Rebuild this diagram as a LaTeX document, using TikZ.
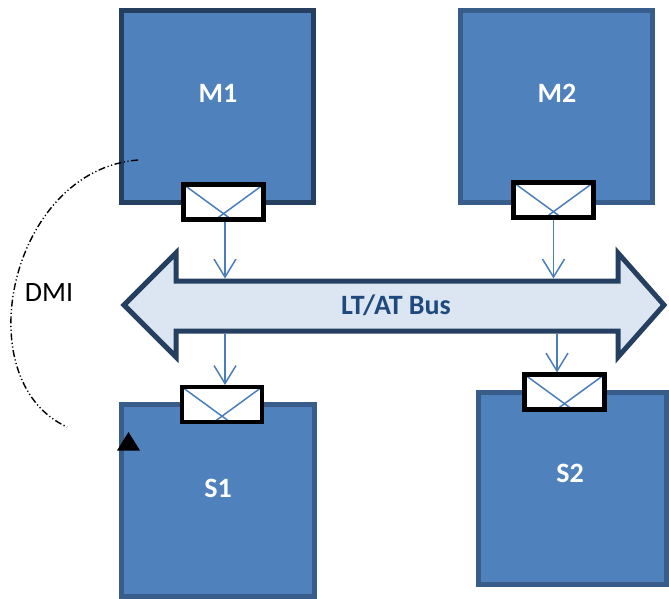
\documentclass[tikz,border=0pt]{standalone}
\usepackage{fontspec}
\setmainfont{Carlito}
\usetikzlibrary{arrows.meta,calc}
\definecolor{boxfill}{HTML}{4F81BD}
\definecolor{boxline}{HTML}{385D8A}
\definecolor{boxlinedark}{HTML}{243F60}
\definecolor{busfill}{HTML}{DCE6F2}
\definecolor{buslabel}{HTML}{1F497D}
\definecolor{linkblue}{HTML}{4A7EBB}

\begin{document}
\begin{tikzpicture}[x=1pt,y=-1pt,
  unit/.style={draw=boxline, fill=boxfill, line width=5pt, inner sep=0pt, outer sep=0pt},
  unitlabel/.style={text=white, font=\bfseries\fontsize{28}{32}\selectfont},
  port/.style={fill=white, minimum width=80pt, minimum height=35pt, inner sep=0pt, outer sep=0pt},
  portframe/.style={draw=black, line width=4.5pt},
  xline/.style={draw=linkblue, line width=1.5pt},
  buslink/.style={draw=linkblue, line width=1.5pt, -{Straight Barb[length=18pt,width=22pt,line width=1.5pt]}},
  dmi/.style={line width=1.4pt, dash pattern=on 7pt off 2.5pt on 1.2pt off 2.5pt on 1.2pt off 2.5pt}]

\useasboundingbox (0,0) rectangle (669,598);

% masters and slaves
\node[unit, draw=boxlinedark, minimum width=192pt, minimum height=192pt] (m1) at (217.5,106.5) {};
\node[unit, minimum width=192pt, minimum height=192pt] (m2) at (556.5,106.5) {};
\node[unit, minimum width=193pt, minimum height=192pt] (s1) at (218,500.5) {};
\node[unit, minimum width=188pt, minimum height=192pt] (s2) at (572.5,488.5) {};

\node[unitlabel] (m1t) at (218,93) {M1};
\node[unitlabel] (m2t) at (557,93) {M2};
\node[unitlabel] (s1t) at (218,488) {S1};
\node[unitlabel] (s2t) at (570,473) {S2};

% LT/AT bus as a double-headed arrow
\draw[boxlinedark, fill=busfill, line width=5pt, line join=miter]
  (124,305) -- (176,253) -- (176,281) -- (618,281) -- (618,253) -- (664,305)
  -- (618,357) -- (618,331) -- (176,331) -- (176,357) -- cycle;
\node[text=buslabel, font=\bfseries\fontsize{28}{32}\selectfont] (bus) at (396,305) {LT/AT Bus};
\coordinate (busN) at (0,278.5);
\coordinate (busS) at (0,333.5);

% ports with crossed envelopes
\foreach \p/\x/\y in {m1p/223.5/202, m2p/553.5/200, s1p/222/404.5, s2p/564.5/392} {
  \node[port] (\p) at (\x,\y) {};
  \draw[xline] (\p.north west) -- ($(\p.south)+(8,0)$);
  \draw[xline] (\p.north east) -- ($(\p.south)+(-8,0)$);
  \draw[portframe] (\p.north west) rectangle (\p.south east);
}

% links between ports and the bus
\draw[buslink] ($(m1p.south)+(1.5,2)$) -- ($(m1p.south |- busN)+(1.5,0)$);
\draw[buslink] ($(m2p.south)+(0,2)$) -- (m2p.south |- busN);
\draw[buslink] ($(s1p.north |- busS)+(3,0)$) -- ($(s1p.north)+(3,-2)$);
\draw[buslink] ($(s2p.north |- busS)+(-7.5,0)$) -- ($(s2p.north)+(-7.5,-2)$);

% DMI path from M1 to S1
\coordinate (dmiA) at (138,160);
\coordinate (dmiB) at (67,427);
\draw[dmi] (dmiA) .. controls (10,170) and (-35,380) .. (dmiB);
\node[font=\fontsize{28}{32}\selectfont] (dmit) at (49,293) {DMI};
\fill[black] (117,450.5) -- (128.5,432) -- (140,450.5) -- cycle;
\end{tikzpicture}
\end{document}
